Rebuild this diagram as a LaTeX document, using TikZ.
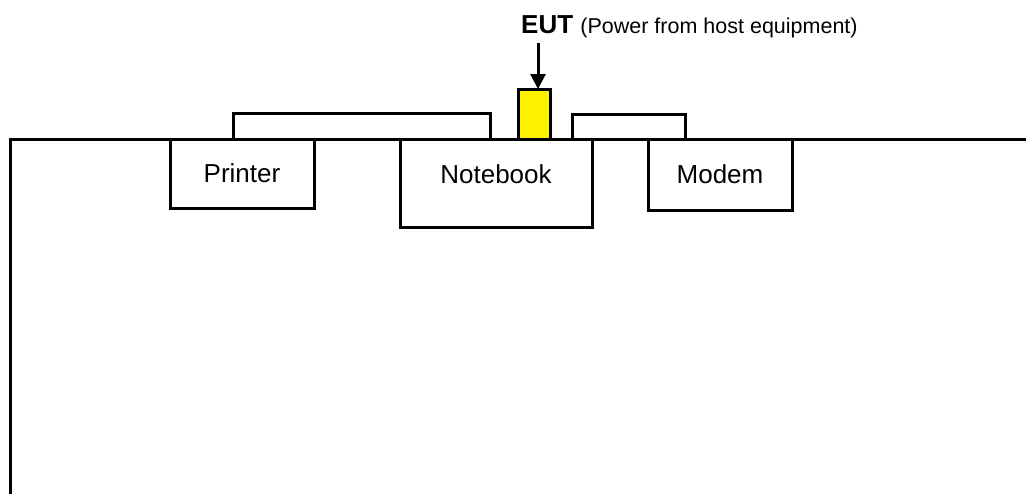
\documentclass[tikz,border=0pt]{standalone}
\usepackage{fontspec}
\setmainfont{Liberation Sans}
\usetikzlibrary{arrows.meta}
\begin{document}
\begin{tikzpicture}[x=1pt,y=-1pt,
  box/.style={draw=black,line width=3pt,fill=white,rectangle,inner sep=0pt,font=\fontsize{26}{31}\selectfont},
  tab/.style={draw=black,line width=3pt,fill=white,rectangle,inner sep=0pt},
  euttab/.style={draw=black,line width=3pt,fill=yellow,rectangle,inner sep=0pt},
  conn/.style={line width=3pt,-{Triangle[length=15pt,width=15pt]}}]
\useasboundingbox (0,0) rectangle (1026,493);
% tabs on top of the table
\node[tab,minimum width=257pt,minimum height=26pt] (cable1) at (361.5,126) {};
\node[tab,minimum width=113pt,minimum height=25pt] (cable2) at (628.5,126.5) {};
\node[euttab,minimum width=32pt,minimum height=50pt] (eut) at (534.5,114) {};
% table edge
\coordinate (tl) at (10,139);
\coordinate (bl) at (10,494);
\coordinate (tr) at (1027,139);
\draw[line width=3pt] (bl) -- (tl) -- (tr);
% devices
\node[box,minimum width=144pt,minimum height=69pt] (printer) at (242,173.5) {Printer};
\node[box,minimum width=192pt,minimum height=88pt,text depth=18pt] (notebook) at (496,183) {Notebook};
\node[box,minimum width=144pt,minimum height=71pt] (modem) at (720,174.5) {Modem};
% label
\node[anchor=base west,inner sep=0pt] (lbl) at (521,33)
  {\fontsize{26}{31}\selectfont\bfseries EUT {\fontsize{21.5}{26}\selectfont\mdseries (Power from host equipment)}};
\coordinate (arrstart) at (538,43);
\coordinate (arrend) at (538,89);
\draw[conn] (arrstart) -- (arrend);
\end{tikzpicture}
\end{document}
